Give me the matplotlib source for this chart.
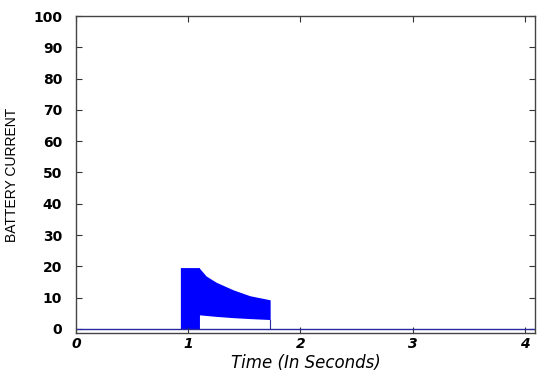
import matplotlib
matplotlib.use("Agg")
import matplotlib.pyplot as plt
import numpy as np

# Baseline current trace (seconds, amps)
base_t = [0.0, 0.93, 0.93, 1.73, 1.73, 4.1]
base_i = [0.0, 0.0, 0.0, 0.0, 0.0, 0.0]

# Envelope of the fast-switching current burst
burst_t = [0.93, 1.10, 1.10, 1.16, 1.25, 1.40, 1.55, 1.73]
burst_upper = [19.6, 19.6, 19.4, 16.9, 14.9, 12.5, 10.6, 9.3]
burst_lower = [0.0, 0.0, 4.5, 4.3, 4.0, 3.6, 3.3, 3.0]

xticks = [0, 1, 2, 3, 4]
yticks = [0, 10, 20, 30, 40, 50, 60, 70, 80, 90, 100]

fig = plt.figure(figsize=(5.39, 3.76), dpi=100)
ax = fig.add_axes([0.141, 0.1144, 0.8516, 0.843])

line_col = "#2a2aa0"
ax.plot(base_t, base_i, color=line_col, lw=1.0)
ax.fill_between(burst_t, burst_lower, burst_upper, color="#0000ff", lw=0)
ax.plot([burst_t[-1], burst_t[-1]], [0, burst_lower[-1]], color=line_col, lw=0.8)

ax.set_xlim(0, 4.09)
ax.set_ylim(-1.3, 100)
ax.set_xticks(xticks)
ax.set_yticks(yticks)
ax.set_xticklabels([str(v) for v in xticks], fontsize=10, fontweight="bold", style="italic")
ax.set_yticklabels([str(v) for v in yticks], fontsize=10, fontweight="bold")
ax.tick_params(direction="in", length=4, top=True, right=True, color="#333333")
ax.tick_params(axis="x", pad=3)
ax.tick_params(axis="y", pad=10)
for s in ax.spines.values():
    s.set_color("#444444")
    s.set_linewidth(1.0)

ax.set_xlabel("Time (In Seconds)", fontsize=12, style="italic")
ax.xaxis.label.set_va("center")
ax.xaxis.set_label_coords(0.5, -0.094)
fig.text(0.022, 0.535, "BATTERY CURRENT", rotation=90, ha="center", va="center",
         fontsize=10, family=["Liberation Sans", "DejaVu Sans"])

fig.savefig("out.png", dpi=100)
